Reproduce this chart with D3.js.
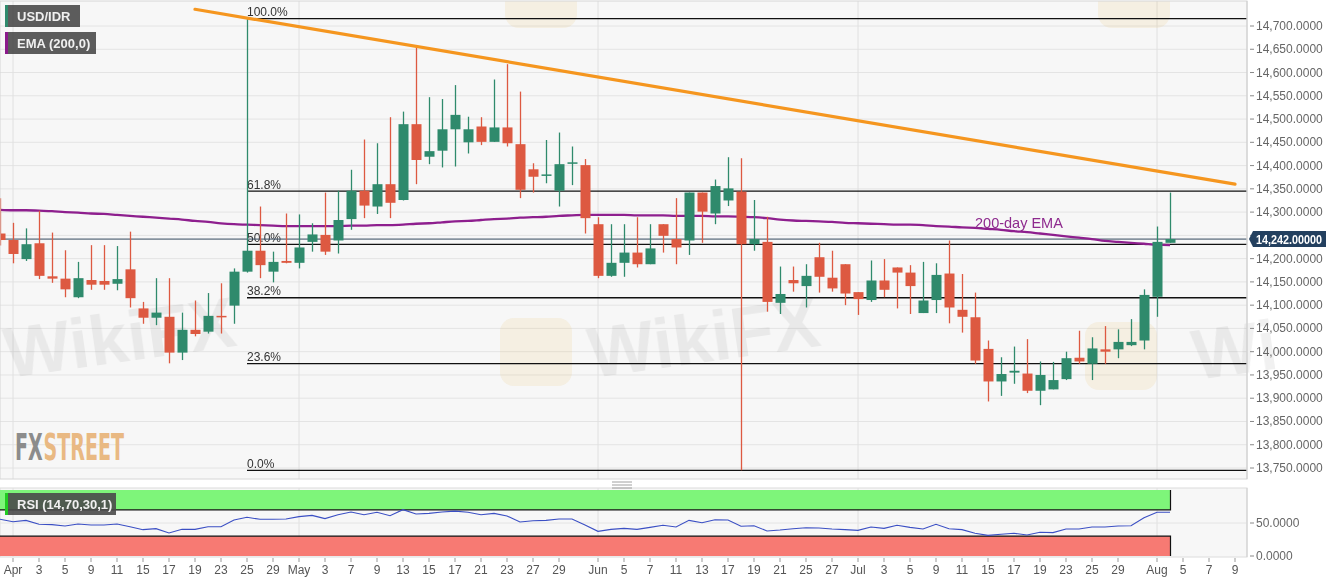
<!DOCTYPE html>
<html><head><meta charset="utf-8">
<script src="https://cdn.jsdelivr.net/npm/d3@7"></script>
<style>
html,body{margin:0;padding:0;background:#fff;}
svg{display:block;font-family:"Liberation Sans",Arial,sans-serif;}
</style></head>
<body><svg id="c" width="1331" height="583"></svg>
<script>
// ---------- DATA ----------
const symbol = "USD/IDR";
const emaLabel = "EMA (200,0)";
const rsiLabel = "RSI (14,70,30,1)";
const startDay = "2019-03-29";
const endDay = "2019-08-12";
// candles Mar 29 .. Aug 2, 2019
const opens = [14254,14240,14199,14233,14162,14157,14117,14154,14152,14146,14177,14093,14073,14075,13998,14047,14043,14077,14099,14172,14217,14172,14195,14191,14236,14251,14239,14285,14346,14312,14360,14326,14489,14419,14432,14478,14450,14484,14451,14482,14446,14392,14378,14346,14404,14401,14274,14163,14191,14213,14188,14274,14242,14239,14342,14297,14325,14344,14231,14236,14105,14154,14141,14203,14159,14188,14128,14111,14153,14181,14170,14083,14111,14168,14090,14074,14006,13936,13955,13953,13916,13919,13941,13987,13974,14005,14005,14014,14024,14118,14234];
const highs = [14330,14277,14265,14303,14256,14218,14193,14229,14229,14227,14258,14107,14158,14158,14084,14110,14126,14147,14179,14716,14312,14215,14297,14295,14276,14342,14346,14391,14456,14448,14504,14516,14659,14547,14543,14573,14505,14504,14585,14618,14559,14405,14455,14471,14441,14414,14289,14274,14274,14289,14274,14274,14330,14342,14342,14370,14418,14416,14326,14290,14183,14183,14188,14234,14217,14188,14128,14196,14199,14181,14186,14193,14190,14239,14167,14127,14024,13988,14011,14027,13979,13978,14000,14045,14031,14055,14048,14070,14134,14269,14342];
const lows = [14228,14190,14195,14156,14148,14117,14115,14133,14133,14132,14095,14060,14057,13975,13982,14033,14039,14039,14060,14170,14158,14149,14190,14179,14215,14208,14211,14262,14287,14296,14287,14325,14360,14403,14396,14398,14426,14444,14451,14441,14330,14342,14362,14312,14358,14254,14158,14161,14161,14181,14188,14213,14188,14208,14234,14274,14313,13745,14217,14086,14081,14129,14095,14127,14129,14100,14079,14107,14117,14093,14081,14083,14083,14061,14041,13974,13893,13905,13931,13911,13885,13919,13939,13974,13939,13974,13986,14012,14005,14075,14234];
const closes = [14240,14210,14231,14163,14157,14134,14158,14144,14144,14156,14115,14073,14084,13998,14047,14038,14077,14075,14172,14217,14186,14193,14191,14224,14252,14215,14283,14346,14314,14360,14320,14489,14412,14431,14478,14509,14478,14451,14482,14448,14348,14376,14381,14403,14407,14287,14163,14191,14213,14188,14222,14249,14224,14342,14301,14356,14351,14231,14242,14107,14124,14147,14163,14161,14136,14125,14113,14153,14133,14170,14141,14110,14165,14095,14075,13981,13936,13952,13959,13916,13950,13939,13986,13979,14007,14000,14021,14021,14122,14236,14242];
const ema200 = [14305,14304,14304,14303,14302,14300,14299,14297,14296,14294,14292,14290,14288,14286,14284,14281,14279,14276,14274,14273,14272,14271,14270,14270,14270,14270,14270,14271,14271,14272,14272,14273,14275,14276,14278,14280,14281,14283,14285,14286,14288,14289,14290,14292,14293,14294,14294,14294,14294,14293,14293,14293,14292,14292,14292,14291,14291,14290,14289,14287,14284,14282,14281,14280,14279,14277,14276,14275,14274,14273,14273,14272,14270,14269,14267,14266,14264,14262,14259,14257,14254,14251,14248,14245,14242,14238,14236,14234,14232,14230,14229];
const rsi = [55.6,52,54,48,47.5,45.5,48.5,47,47,48.5,44.4,39.9,41.4,34.8,40.4,40.4,44.4,44.4,54.5,58.6,55.6,55.6,56,59.6,61.6,56.6,62.6,66.7,62.6,66.2,61.1,70.2,63.6,64.6,66.7,68,66.2,62.6,64.6,60.6,51.5,53.5,54,56,56,47,37.4,40.4,41.9,40.4,43.4,46.5,43.9,54,50.5,55,54.5,45,45.9,37.9,39.4,41.4,42.9,42.4,40.9,39.9,38.9,43.9,41.9,46.5,43.4,40.9,48,41.4,39.9,34.4,31.3,32.9,34.4,31.8,35.9,35.4,40.9,40.9,43.9,43.9,45.5,45.9,58,66.2,66.2];
const lastPrice = 14242;
const yTicks = [13750,13800,13850,13900,13950,14000,14050,14100,14150,14200,14250,14300,14350,14400,14450,14500,14550,14600,14650,14700];
const rsiTicks = [0,50];
const rsiBands = [30,70];
const tickDates = ["2019-04-01","2019-04-03","2019-04-05","2019-04-09","2019-04-11","2019-04-15","2019-04-17","2019-04-19","2019-04-23","2019-04-25","2019-04-29","2019-05-01","2019-05-03","2019-05-07","2019-05-09","2019-05-13","2019-05-15","2019-05-17","2019-05-21","2019-05-23","2019-05-27","2019-05-29","2019-06-03","2019-06-05","2019-06-07","2019-06-11","2019-06-13","2019-06-17","2019-06-19","2019-06-21","2019-06-25","2019-06-27","2019-07-01","2019-07-03","2019-07-05","2019-07-09","2019-07-11","2019-07-15","2019-07-17","2019-07-19","2019-07-23","2019-07-25","2019-07-29","2019-08-01","2019-08-05","2019-08-07","2019-08-09"];
const tickLabels = ["Apr","3","5","9","11","15","17","19","23","25","29","May","3","7","9","13","15","17","21","23","27","29","Jun","5","7","11","13","17","19","21","25","27","Jul","3","5","9","11","15","17","19","23","25","29","Aug","5","7","9"];
const monthStarts = ["2019-04-01","2019-05-01","2019-06-03","2019-07-01","2019-08-01"];
const fibLevels = [0,0.236,0.382,0.5,0.618,1];
const fibLabels = ["0.0%","23.6%","38.2%","50.0%","61.8%","100.0%"];
const fibHigh = 14716, fibLow = 13745, fibStart = "2019-04-25";
const trendDates = ["2019-04-19","2019-08-09"];
const trendValues = [14736,14360];
const emaNote = "200-day EMA";

// ---------- SETUP ----------
const fmtKey = d3.timeFormat("%Y-%m-%d");
const parse = d3.timeParse("%Y-%m-%d");
const allDays = d3.timeDay.range(parse(startDay), d3.timeDay.offset(parse(endDay),1))
  .filter(d => d.getDay() !== 0 && d.getDay() !== 6).map(fmtKey);
const candles = opens.map((o,i)=>({date:allDays[i],o,h:highs[i],l:lows[i],c:closes[i],ema:ema200[i],rsi:rsi[i]}));

const plotR = 1247;
const mainTop = 1, mainBot = 479;
const rsiTop = 488, rsiBot = 557;
const x = d3.scalePoint().domain(allDays).range([0, 1248]);
const y = d3.scaleLinear().domain([13750,14700]).range([468,26]);
const yr = d3.scaleLinear().domain([0,100]).range([556,490]);
const green="#2f8a6c", red="#dd5941";
const svg = d3.select("#c");
svg.append("defs").append("clipPath").attr("id","mainclip").append("rect").attr("x",0).attr("y",mainTop).attr("width",plotR).attr("height",mainBot-mainTop);

// panels
svg.append("rect").attr("x",0).attr("y",mainTop).attr("width",plotR).attr("height",mainBot-mainTop).attr("fill","#f7f7f7");
svg.append("rect").attr("x",0).attr("y",rsiTop).attr("width",plotR).attr("height",rsiBot-rsiTop).attr("fill","#f7f7f7").attr("stroke","#dcdcdc");

// grid
const g = svg.append("g");
g.selectAll(".hg").data(yTicks).join("line").attr("x1",0).attr("x2",plotR).attr("y1",d=>y(d)).attr("y2",d=>y(d)).attr("stroke","#e4e4e4");
g.selectAll(".vg").data(monthStarts).join("line").attr("x1",d=>x(d)).attr("x2",d=>x(d)).attr("y1",mainTop).attr("y2",mainBot).attr("stroke","#e0e0e0");
g.selectAll(".vg2").data(monthStarts).join("line").attr("x1",d=>x(d)).attr("x2",d=>x(d)).attr("y1",rsiTop).attr("y2",rsiBot).attr("stroke","#e0e0e0");
g.append("line").attr("x1",0).attr("x2",plotR).attr("y1",yr(50)).attr("y2",yr(50)).attr("stroke","#e4e4e4");

// watermarks (faint)
const wl = svg.append("g").attr("clip-path","url(#mainclip)").attr("fill","#e6b24a").attr("opacity",0.12);
[[500,318],[1085,322],[505,-40],[1098,-40]].forEach(p=>{
  wl.append("rect").attr("x",p[0]).attr("y",p[1]).attr("width",72).attr("height",68).attr("rx",14);
});
const wm = svg.append("g").attr("fill","#000").attr("opacity",0.055).attr("font-weight","bold").attr("font-size",70);
[[8,378,"WikiFX"],[592,378,"WikiFX"],[1196,380,"Wi"]].forEach(p=>{
  wm.append("text").attr("x",p[0]).attr("y",p[1]).attr("transform",`rotate(-8,${p[0]},${p[1]})`).text(p[2]);
});

// FXSTREET logo (scaled to fit its box)
const lf = "'Liberation Sans Narrow','DejaVu Sans Condensed',sans-serif";
const lg = svg.append("g").attr("font-family",lf).attr("font-weight","bold").attr("font-size",26);
const fxT = lg.append("text").attr("x",0).attr("y",0).attr("fill","#8c8c8c").text("FX");
const fxW = fxT.node().getComputedTextLength();
const stT = lg.append("text").attr("x",fxW+1).attr("y",0).attr("fill","#e9b983").text("STREET");
const totW = fxW + 1 + stT.node().getComputedTextLength();
lg.attr("transform",`translate(15,460) scale(${109/totW},1.42)`);

// fib levels
const fx0 = x(fibStart);
const fib = svg.append("g");
fibLevels.forEach((lv,i)=>{
  const v = fibLow + lv*(fibHigh-fibLow);
  fib.append("line").attr("x1",fx0).attr("x2",plotR).attr("y1",y(v)).attr("y2",y(v)).attr("stroke","#111").attr("stroke-width",1.3);
  fib.append("text").attr("x",fx0).attr("y",y(v)-2.5).attr("font-size",12).attr("fill","#333").text(fibLabels[i]);
});

// last price line
svg.append("line").attr("x1",0).attr("x2",plotR).attr("y1",y(lastPrice)).attr("y2",y(lastPrice)).attr("stroke","#34495e").attr("stroke-width",1);

// EMA
svg.append("path").datum(candles).attr("fill","none").attr("stroke","#8e1f8e").attr("stroke-width",2.3)
  .attr("d",d3.line().x(d=>x(d.date)).y(d=>y(d.ema)).curve(d3.curveMonotoneX));

// candles
const bw = 10;
const cg = svg.append("g").attr("clip-path","url(#mainclip)");
cg.selectAll(".w").data(candles).join("line")
  .attr("x1",d=>Math.round(x(d.date))+0.5).attr("x2",d=>Math.round(x(d.date))+0.5)
  .attr("y1",d=>y(d.h)).attr("y2",d=>y(d.l)).attr("stroke",d=>d.c>=d.o?green:red).attr("stroke-width",1.3);
cg.selectAll(".b").data(candles).join("rect")
  .attr("x",d=>Math.round(x(d.date))+0.5-bw/2).attr("width",bw)
  .attr("y",d=>y(Math.max(d.o,d.c))).attr("height",d=>Math.max(1.5,Math.abs(y(d.o)-y(d.c))))
  .attr("fill",d=>d.c>=d.o?green:red);

// trend line
svg.append("line").attr("x1",x(trendDates[0])).attr("x2",x(trendDates[1])).attr("y1",y(trendValues[0])).attr("y2",y(trendValues[1]))
  .attr("stroke","#f5961f").attr("stroke-width",3.2).attr("stroke-linecap","round");

// EMA note
svg.append("text").attr("x",975).attr("y",228).attr("font-size",14.5).attr("fill","#8e2a8e").text(emaNote);

// border
svg.append("rect").attr("x",0).attr("y",mainTop).attr("width",plotR).attr("height",mainBot-mainTop).attr("fill","none").attr("stroke","#d6d6d6");

// RSI bands
const lastX = x(candles[candles.length-1].date)+0.5;
svg.append("rect").attr("x",0).attr("y",yr(100)).attr("width",lastX).attr("height",yr(rsiBands[1])-yr(100)).attr("fill","#7ef57a");
svg.append("rect").attr("x",0).attr("y",yr(rsiBands[0])).attr("width",lastX).attr("height",yr(0)-yr(rsiBands[0])).attr("fill","#f77a73");
svg.append("path").attr("fill","none").attr("stroke","#111").attr("stroke-width",1.2)
  .attr("d",`M0,${yr(70)}H${lastX}V${yr(100)}M0,${yr(30)}H${lastX}V${yr(0)}`);
svg.append("path").datum(candles).attr("fill","none").attr("stroke","#3b4fc4").attr("stroke-width",1.1)
  .attr("d",d3.line().x(d=>x(d.date)).y(d=>yr(d.rsi)));

// separator handle
[0,3,6].forEach(o=>svg.append("line").attr("x1",612).attr("x2",632).attr("y1",482+o).attr("y2",482+o).attr("stroke","#888").attr("stroke-width",0.8));

// right axes
const ax = svg.append("g").attr("transform",`translate(${plotR},0)`);
ax.append("line").attr("x1",0).attr("x2",0).attr("y1",mainTop).attr("y2",mainBot).attr("stroke","#cfcfcf");
ax.append("line").attr("x1",0).attr("x2",0).attr("y1",rsiTop).attr("y2",rsiBot).attr("stroke","#cfcfcf");
const fmt = d3.format(",.4f");
const ly = y(lastPrice);
const shownTicks = yTicks.filter(d => Math.abs(y(d)-ly) > 12);
ax.selectAll(".yt").data(yTicks).join("line").attr("x1",3).attr("x2",7).attr("y1",d=>y(d)).attr("y2",d=>y(d)).attr("stroke","#888");
ax.selectAll(".yl").data(shownTicks).join("text").attr("x",9).attr("y",d=>y(d)+4).attr("font-size",12).attr("fill","#666").text(d=>fmt(d));
ax.selectAll(".rt").data(rsiTicks).join("line").attr("x1",3).attr("x2",7).attr("y1",d=>yr(d)).attr("y2",d=>yr(d)).attr("stroke","#888");
ax.selectAll(".rl").data(rsiTicks).join("text").attr("x",9).attr("y",d=>yr(d)+4).attr("font-size",12).attr("fill","#666").text(d=>d3.format(".4f")(d));
// last price tag
ax.append("path").attr("d",`M2,${ly} L6,${ly-8} H79 V${ly+8} H6 Z`).attr("fill","#23405f");
ax.append("text").attr("x",9).attr("y",ly+4.5).attr("font-size",12).attr("font-weight","bold").attr("fill","#fff")
  .attr("textLength",66).attr("lengthAdjust","spacingAndGlyphs").text(d3.format(",.5f")(lastPrice));

// x axis
const xa = svg.append("g");
xa.selectAll(".xt").data(tickDates).join("line").attr("x1",d=>x(d)).attr("x2",d=>x(d)).attr("y1",rsiBot+1).attr("y2",rsiBot+5).attr("stroke","#999");
xa.selectAll(".xl").data(tickDates).join("text").attr("x",d=>x(d)).attr("y",574).attr("text-anchor","middle").attr("font-size",12).attr("fill","#555").text((d,i)=>tickLabels[i]);

// legend boxes
function tag(yy,w,col,txt){
  svg.append("rect").attr("x",5).attr("y",yy).attr("width",w).attr("height",22).attr("fill","#4a4a4a").attr("opacity",0.9);
  svg.append("rect").attr("x",5).attr("y",yy).attr("width",3).attr("height",22).attr("fill",col);
  svg.append("text").attr("x",17).attr("y",yy+16).attr("font-size",13).attr("font-weight","bold").attr("fill","#f0f0f0").text(txt);
}
tag(5,75,green,symbol);
tag(32,91,"#8b1a8b",emaLabel);
tag(493,111,"#22cc22",rsiLabel);
</script></body></html>
